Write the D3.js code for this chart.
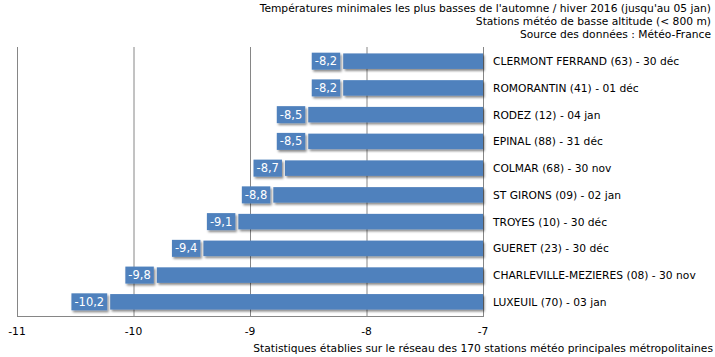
<!DOCTYPE html>
<html><head><meta charset="utf-8">
<script src="https://cdn.jsdelivr.net/npm/d3@7"></script>
<style>body{margin:0;background:#fff}svg{display:block}text{font-family:"DejaVu Sans",sans-serif}</style>
</head><body>
<svg id="c" width="715" height="357"></svg>
<script>
const stations = ["CLERMONT FERRAND (63) - 30 déc","ROMORANTIN (41) - 01 déc","RODEZ (12) - 04 jan","EPINAL (88) - 31 déc","COLMAR (68) - 30 nov","ST GIRONS (09) - 02 jan","TROYES (10) - 30 déc","GUERET (23) - 30 déc","CHARLEVILLE-MEZIERES (08) - 30 nov","LUXEUIL (70) - 03 jan"];
const values = [-8.2,-8.2,-8.5,-8.5,-8.7,-8.8,-9.1,-9.4,-9.8,-10.2];
const ticks = [-11,-10,-9,-8,-7];
const titleLines = ["Températures minimales les plus basses de l'automne / hiver 2016 (jusqu'au 05 jan)","Stations météo de basse altitude (< 800 m)","Source des données : Météo-France"];
const footer = "Statistiques établies sur le réseau des 170 stations météo principales métropolitaines";

const svg = d3.select("#c");
const L=17,R=483,T=47,B=316;
const x = d3.scaleLinear().domain([-11,-7]).range([L,R]);
const y = d3.scaleBand().domain(stations).range([T,B]).paddingInner(0.42).paddingOuter(0.24);
const blue="#4F81BD";
const fs=10.7;

const defs=svg.append("defs");
const f=defs.append("filter").attr("id","sh").attr("x","-10%").attr("y","-30%").attr("width","130%").attr("height","180%");
f.append("feDropShadow").attr("dx",1.5).attr("dy",2).attr("stdDeviation",1.2).attr("flood-color","#000").attr("flood-opacity",0.45);

svg.append("g").selectAll("line").data(ticks).join("line")
 .attr("x1",d=>x(d)+0.5).attr("x2",d=>x(d)+0.5).attr("y1",T).attr("y2",B)
 .attr("stroke","#868686").attr("stroke-width",1);
svg.append("line").attr("x1",L).attr("x2",R+1).attr("y1",B+0.5).attr("y2",B+0.5).attr("stroke","#868686");

svg.append("g").selectAll("rect").data(values).join("rect")
 .attr("x",d=>x(d)).attr("width",d=>x(-7)-x(d))
 .attr("y",(d,i)=>y(stations[i])).attr("height",y.bandwidth())
 .attr("fill",blue).attr("filter","url(#sh)");

const fmt=d=>d3.format(".1f")(d).replace("\u2212","-").replace(".",",");
const lg=svg.append("g").selectAll("g").data(values).join("g");
lg.each(function(d,i){
  const g=d3.select(this);
  const cy=y(stations[i])+y.bandwidth()/2;
  const txt=g.append("text").attr("x",x(d)-6).attr("y",cy+4).attr("text-anchor","end")
    .attr("font-size",11.5).attr("fill","#fff").text(fmt(d));
  const bb=txt.node().getBBox();
  g.insert("rect","text").attr("x",bb.x-3).attr("y",cy-8.5).attr("width",bb.width+6).attr("height",17)
    .attr("fill",blue).attr("filter","url(#sh)");
});

svg.append("g").selectAll("text").data(stations).join("text")
 .attr("x",493).attr("y",d=>y(d)+y.bandwidth()/2+4).attr("font-size",fs).attr("fill","#000").text(d=>d);

svg.append("g").selectAll("text").data(ticks).join("text")
 .attr("x",d=>x(d)).attr("y",335).attr("text-anchor","middle").attr("font-size",fs).text(d=>d3.format("d")(d).replace("\u2212","-"));

svg.append("g").selectAll("text").data(titleLines).join("text")
 .attr("x",711).attr("y",(d,i)=>12+i*13.2).attr("text-anchor","end").attr("font-size",fs).text(d=>d);
svg.append("text").attr("x",713).attr("y",352).attr("text-anchor","end").attr("font-size",fs).text(footer);
</script></body></html>
